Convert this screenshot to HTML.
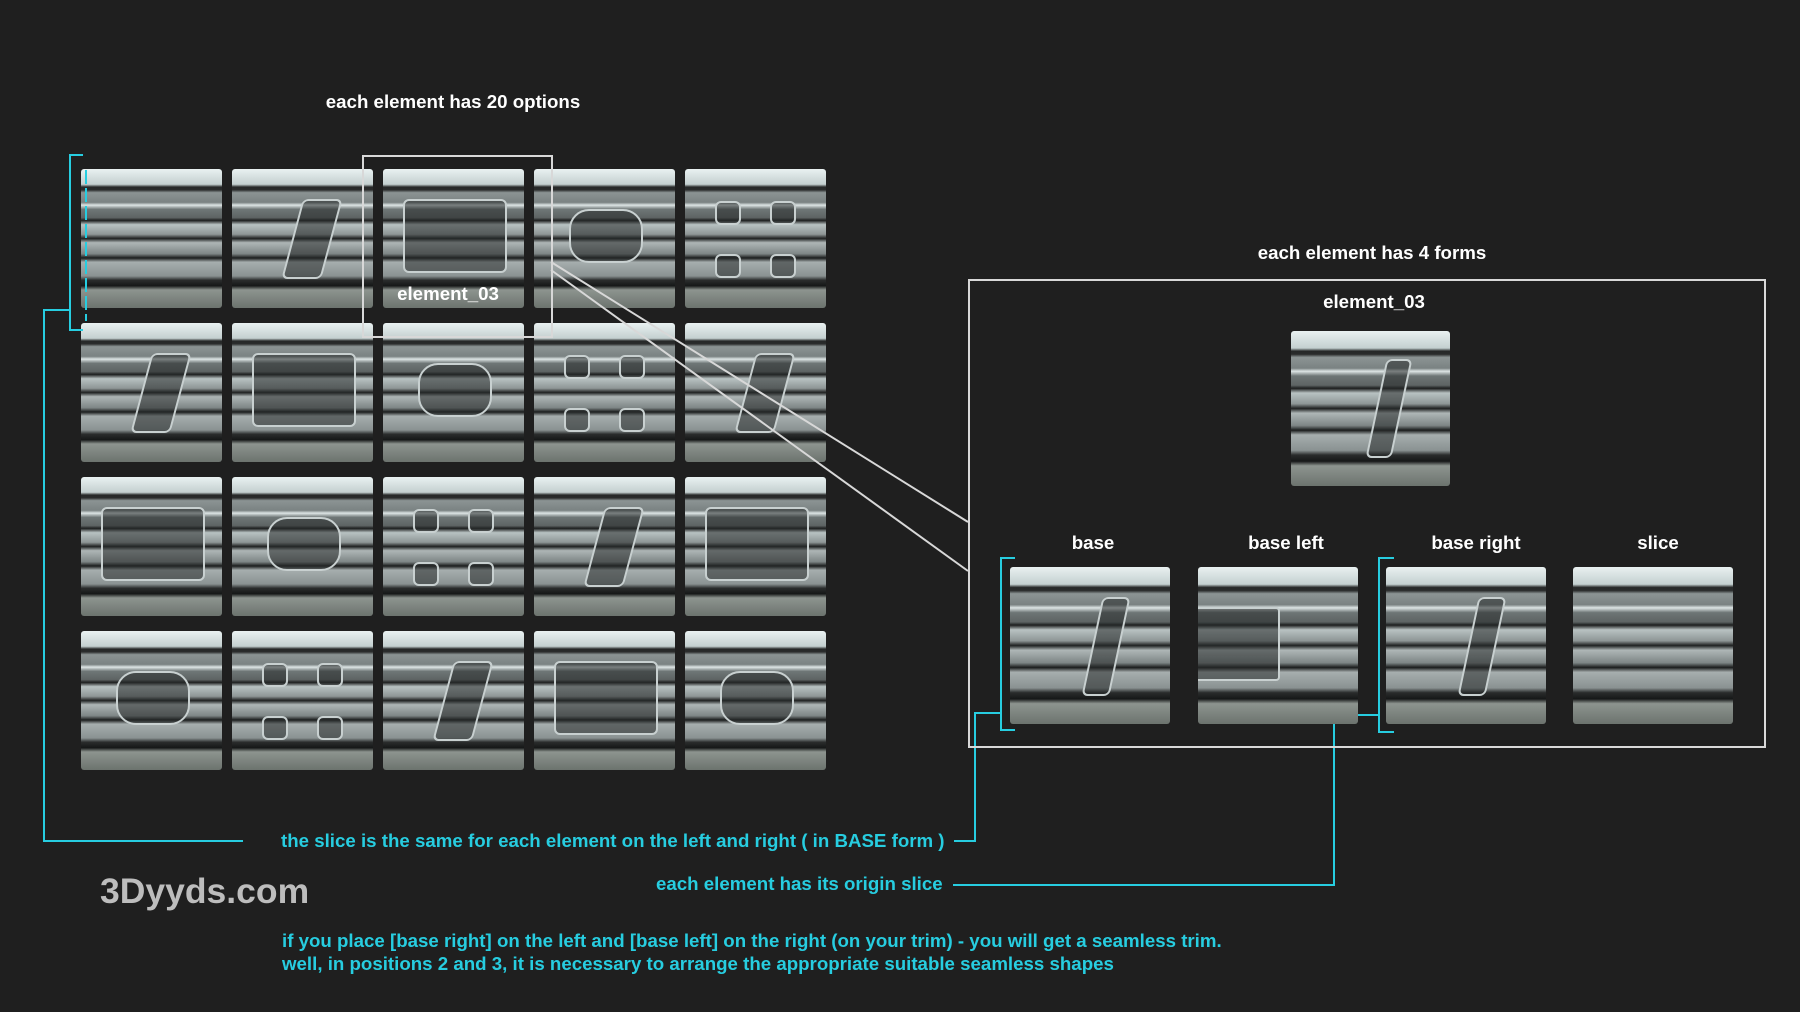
<!DOCTYPE html>
<html><head><meta charset="utf-8"><style>
html,body{margin:0;padding:0;background:#1f1f1f;}
body{width:1800px;height:1012px;position:relative;overflow:hidden;font-family:"Liberation Sans",sans-serif;font-weight:bold;}
.t{position:absolute;border-radius:3px;overflow:hidden;
background:linear-gradient(to bottom,#e9f1f1 0%,#c4d0d0 11%,#262828 13%,#2a2c2c 15%,#8c9494 17%,#7a8282 24%,#dde5e5 26%,#6e7676 29%,#5e6464 35%,#1c1e1e 37%,#b8c2c2 40%,#8e9696 47%,#1e2020 50%,#aeb6b6 53%,#7e8686 61%,#1a1c1c 64%,#a6aeae 67%,#8a9292 77%,#2a2c2c 80%,#161818 84%,#8d948f 87%,#6c736e 100%);}
.o{position:absolute;border:2px solid #c8d0d0;background:rgba(40,44,44,.55);border-radius:6px;}
.lbl{position:absolute;color:#fff;font-size:18.7px;white-space:nowrap;transform:translateX(-50%);}
.cy{position:absolute;color:#27cde0;font-size:18.7px;white-space:nowrap;}
</style></head><body>

<div class="lbl" style="left:453px;top:91px;">each element has 20 options</div>

<div id="grid"></div>
<script>
var g='';
for(var j=0;j<4;j++)for(var i=0;i<5;i++){
 var x=81+151*i,y=169+154*j;
 g+='<div class="t" style="left:'+x+'px;top:'+y+'px;width:141px;height:139px;">';
 if(!(i==0&&j==0)){
  var k=(i+j*5)%4;
  if(k==0){g+='<div class="o" style="left:30px;top:32px;width:22px;height:20px"></div><div class="o" style="left:85px;top:32px;width:22px;height:20px"></div><div class="o" style="left:30px;top:85px;width:22px;height:20px"></div><div class="o" style="left:85px;top:85px;width:22px;height:20px"></div>';}
  else if(k==1){g+='<div class="o" style="left:60px;top:30px;width:36px;height:76px;transform:skewX(-15deg)"></div>';}
  else if(k==2){g+='<div class="o" style="left:20px;top:30px;width:100px;height:70px"></div>';}
  else {g+='<div class="o" style="left:35px;top:40px;width:70px;height:50px;border-radius:20px"></div>';}
 }
 g+='</div>';
}
document.getElementById('grid').innerHTML=g;
</script>

<div style="position:absolute;left:362px;top:155px;width:187px;height:179px;border:2px solid #d8d8d8;"></div>
<div class="lbl" style="left:448px;top:283px;">element_03</div>

<svg width="1800" height="1012" style="position:absolute;left:0;top:0">
<line x1="551" y1="262" x2="968" y2="522" stroke="#d8d8d8" stroke-width="2"/>
<line x1="551" y1="270" x2="968" y2="571" stroke="#d8d8d8" stroke-width="2"/>
<g stroke="#27cde0" stroke-width="2" fill="none">
<polyline points="83,155 70,155 70,330 83,330"/>
<line x1="86" y1="170" x2="86" y2="321" stroke-dasharray="14,4"/>
<polyline points="70,310 44,310 44,841 243,841"/>
<polyline points="954,841 975,841 975,713 1001,713"/>
<polyline points="1015,558 1001,558 1001,730 1015,730"/>
<line x1="1016" y1="571" x2="1016" y2="718" stroke-dasharray="14,4"/>
<polyline points="1394,558 1379,558 1379,732 1394,732"/>
<line x1="1393" y1="571" x2="1393" y2="718" stroke-dasharray="14,4"/>
<polyline points="1379,715 1334,715 1334,885 953,885"/>
</g>
</svg>

<div style="position:absolute;left:968px;top:279px;width:794px;height:465px;border:2px solid #d8d8d8;"></div>
<div class="lbl" style="left:1372px;top:242px;">each element has 4 forms</div>
<div class="lbl" style="left:1374px;top:291px;">element_03</div>
<div class="t" style="left:1291px;top:331px;width:159px;height:155px;"><div class="o" style="left:85px;top:28px;width:22px;height:95px;transform:skewX(-12deg)"></div></div>

<div class="lbl" style="left:1093px;top:532px;">base</div>
<div class="lbl" style="left:1286px;top:532px;">base left</div>
<div class="lbl" style="left:1476px;top:532px;">base right</div>
<div class="lbl" style="left:1658px;top:532px;">slice</div>
<div class="t" style="left:1010px;top:567px;width:160px;height:157px;"><div class="o" style="left:82px;top:30px;width:24px;height:95px;transform:skewX(-12deg)"></div></div>
<div class="t" style="left:1198px;top:567px;width:160px;height:157px;"><div class="o" style="left:-10px;top:40px;width:88px;height:70px;border-radius:4px"></div></div>
<div class="t" style="left:1386px;top:567px;width:160px;height:157px;"><div class="o" style="left:82px;top:30px;width:24px;height:95px;transform:skewX(-12deg)"></div></div>
<div class="t" style="left:1573px;top:567px;width:160px;height:157px;"></div>

<div class="cy" style="left:281px;top:830px;">the slice is the same for each element on the left and right ( in BASE form )</div>
<div class="cy" style="left:656px;top:873px;">each element has its origin slice</div>
<div style="position:absolute;left:100px;top:871px;color:#bdbdbd;font-size:35.5px;">3Dyyds.com</div>
<div class="cy" style="left:282px;top:930px;">if you place [base right] on the left and [base left] on the right (on your trim) - you will get a seamless trim.</div>
<div class="cy" style="left:282px;top:953px;">well, in positions 2 and 3, it is necessary to arrange the appropriate suitable seamless shapes</div>
</body></html>
